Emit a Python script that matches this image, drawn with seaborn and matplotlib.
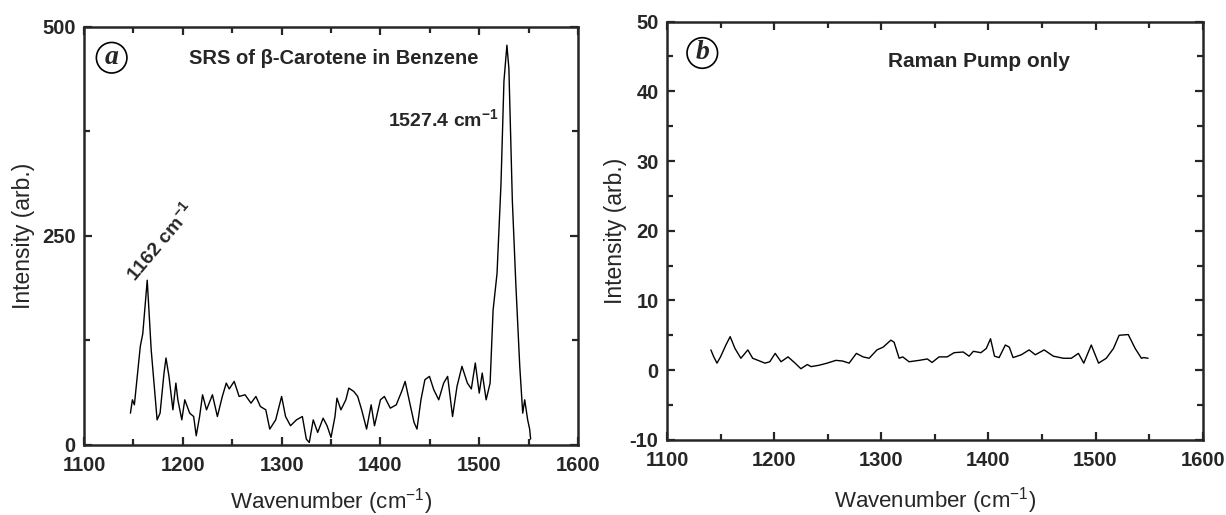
import numpy as np
import pandas as pd
import seaborn as sns
import matplotlib.pyplot as plt
from matplotlib.ticker import MultipleLocator

# panel a: SRS of beta-carotene in benzene
wn_a = [1147, 1149, 1151, 1157, 1159.5, 1164, 1168, 1174, 1177, 1181, 1183, 1186,
        1190, 1193, 1195, 1199, 1202, 1207, 1211, 1213.6, 1217, 1220, 1224, 1226,
        1230, 1235, 1240, 1244, 1247, 1252, 1257, 1263, 1269, 1274, 1278.5, 1284,
        1288, 1294, 1300, 1304, 1309, 1315, 1321, 1325, 1328, 1332, 1336.5, 1342,
        1346, 1350, 1354, 1356, 1360, 1365, 1368, 1373, 1377, 1381, 1386, 1390.6,
        1394, 1400, 1404, 1410, 1416, 1421.5, 1425, 1429, 1434, 1437, 1441, 1445,
        1449.6, 1454, 1459, 1464, 1468, 1473, 1477.5, 1482.5, 1488, 1492, 1496,
        1500, 1503, 1507, 1511, 1514, 1518, 1522, 1525, 1528, 1530, 1533.5, 1537,
        1541, 1544, 1546, 1549, 1551, 1552]
int_a = [38, 54, 48, 118, 133, 197, 114, 30, 38, 86, 104, 82,
         42, 74, 54, 30, 54, 38, 34, 11, 34, 60, 42, 48,
         60, 34, 58, 74, 67, 76, 58, 60, 50, 58, 46, 42,
         19, 30, 58, 34, 23, 30, 34, 7, 3, 30, 15, 32,
         23, 9, 34, 56, 42, 54, 68, 64, 58, 42, 19, 48,
         23, 54, 58, 44, 48, 64, 76, 54, 27, 19, 54, 78,
         82, 66, 54, 74, 82, 34, 70, 94, 74, 67, 98,
         62, 86, 54, 74, 161, 205, 312, 435, 478, 450, 292, 193,
         94, 38, 54, 30, 19, 7]

# panel b: Raman pump only
wn_b = [1141, 1143.7, 1146.7, 1150, 1155, 1159, 1163.5, 1169, 1175.5, 1180, 1185,
        1191.5, 1196, 1201, 1206.5, 1213, 1219.6, 1225, 1231, 1234.5, 1242, 1249.5,
        1257.7, 1264, 1270, 1276.8, 1283, 1288.7, 1296, 1301.8, 1309, 1312, 1316.7,
        1320, 1326, 1335.4, 1343, 1347.4, 1354, 1361.6, 1368, 1376.5, 1382, 1386,
        1393, 1398, 1402, 1405.7, 1410, 1415.8, 1419.5, 1423, 1430.7, 1438, 1443.8,
        1452, 1460.6, 1470, 1477.4, 1484, 1489, 1496, 1502.8, 1510, 1516.7, 1522,
        1530.5, 1537, 1542.8, 1545, 1549]
int_b = [2.9, 1.9, 1.0, 1.9, 3.6, 4.8, 3.1, 1.7, 2.9, 1.7, 1.4,
         1.0, 1.2, 2.4, 1.2, 1.9, 1.0, 0.2, 0.8, 0.5, 0.7, 1.0,
         1.4, 1.3, 1.0, 2.4, 1.9, 1.7, 2.9, 3.3, 4.3, 4.0, 1.7,
         1.9, 1.2, 1.4, 1.6, 1.1, 1.9, 1.9, 2.5, 2.6, 2.0, 2.7,
         2.5, 3.1, 4.5, 2.0, 1.8, 3.6, 3.3, 1.8, 2.2, 2.9, 2.2,
         2.9, 2.0, 1.7, 1.7, 2.4, 1.0, 3.6, 1.0, 1.7, 3.1, 5.0,
         5.1, 3.1, 1.7, 1.8, 1.7]

sns.set_style("ticks")
plt.rcParams['font.family'] = ['Liberation Sans', 'DejaVu Sans']
plt.rcParams['mathtext.default'] = 'regular'
plt.rcParams['axes.linewidth'] = 1.8
plt.rcParams['axes.unicode_minus'] = False

fig = plt.figure(figsize=(12.26, 5.15), dpi=100)
ax1 = fig.add_axes([0.0685, 0.136, 0.403, 0.812])
ax2 = fig.add_axes([0.544, 0.146, 0.437, 0.812])

df_a = pd.DataFrame({"wn": wn_a, "I": int_a})
df_b = pd.DataFrame({"wn": wn_b, "I": int_b})
sns.lineplot(data=df_a, x="wn", y="I", ax=ax1, color="black", lw=1.0)
sns.lineplot(data=df_b, x="wn", y="I", ax=ax2, color="black", lw=1.0)

ax1.set_ylim(0, 500)
ax1.yaxis.set_major_locator(MultipleLocator(250))
ax1.yaxis.set_minor_locator(MultipleLocator(125))
ax2.set_ylim(-10, 50)
ax2.yaxis.set_major_locator(MultipleLocator(10))
ax2.yaxis.set_minor_locator(MultipleLocator(5))

for ax in (ax1, ax2):
    ax.set_xlim(1100, 1600)
    ax.xaxis.set_major_locator(MultipleLocator(100))
    ax.xaxis.set_minor_locator(MultipleLocator(50))
    ax.tick_params(which="both", direction="in", top=True, right=True, width=1.6)
    ax.tick_params(which="major", length=6)
    ax.tick_params(axis="x", which="major", pad=8)
    ax.tick_params(axis="y", which="major", pad=6)
    ax.tick_params(which="minor", length=4)
    for lab in ax.get_xticklabels() + ax.get_yticklabels():
        lab.set_fontweight("bold")
        lab.set_fontsize(14.5)
    ax.set_xlabel("Wavenumber (cm$^{-1}$)", fontsize=16, labelpad=8)
ax1.set_ylabel("Intensity (arb.)", fontsize=16.5, labelpad=5)
ax2.set_ylabel("Intensity (arb.)", fontsize=16.5, labelpad=2)
ax2.xaxis.labelpad = 11

circ = dict(boxstyle="circle,pad=0.1", fc="white", ec="black", lw=1.2)
ax1.text(1128, 463, "a", family="Liberation Serif", style="italic", weight="bold",
         fontsize=20, ha="center", va="center", bbox=circ)
ax2.text(1133, 45.5, "b", family="Liberation Serif", style="italic", weight="bold",
         fontsize=20, ha="center", va="center", bbox=circ)

ax1.text(1353, 462, "SRS of β-Carotene in Benzene", fontsize=14.5, weight="bold",
         ha="center", va="center")
ax1.text(1464, 389, "1527.4 cm$^{-1}$", fontsize=14, weight="bold",
         ha="center", va="center")
ax1.text(1177, 243, "1162 cm$^{-1}$", fontsize=14, weight="bold",
         ha="center", va="center", rotation=50)
ax2.text(1391, 44.3, "Raman Pump only", fontsize=15, weight="bold",
         ha="center", va="center")

fig.savefig("out.png", dpi=100)
